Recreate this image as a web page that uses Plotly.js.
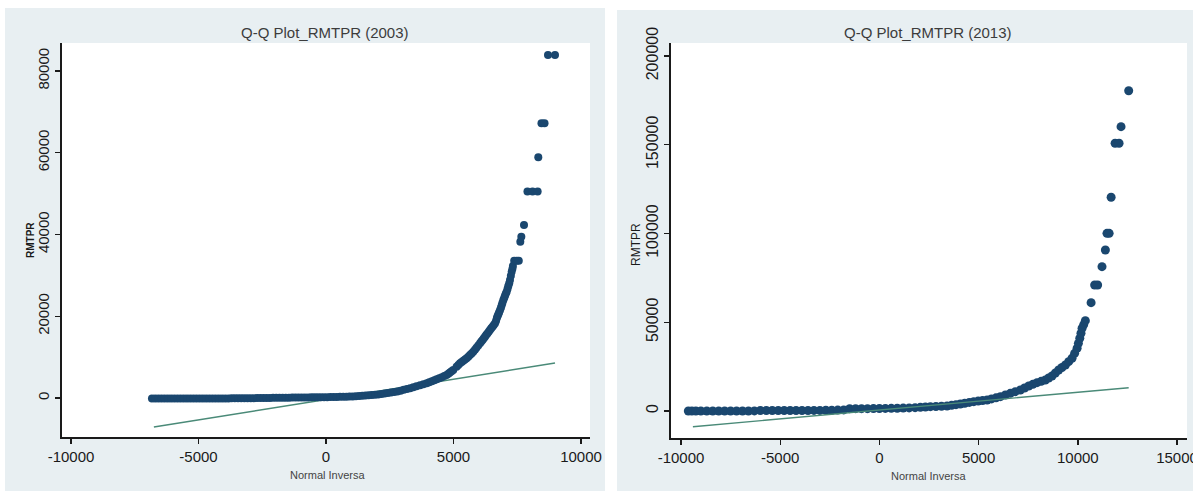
<!DOCTYPE html>
<html><head><meta charset="utf-8">
<script src="https://cdn.plot.ly/plotly-3.0.1.min.js"></script>
<style>html,body{margin:0;padding:0;background:#fff;overflow:hidden}#chart{width:1193px;height:493px}</style>
</head><body><div id="chart"></div>
<script>
// ---------- data ----------
const titles = ["Q-Q Plot_RMTPR (2003)", "Q-Q Plot_RMTPR (2013)"];
const xTitle = "Normal Inversa";
const yTitle = "RMTPR";

const xTicks2003 = [-10000, -5000, 0, 5000, 10000];
const yTicks2003 = [0, 20000, 40000, 60000, 80000];
const xTicks2013 = [-10000, -5000, 0, 5000, 10000, 15000];
const yTicks2013 = [0, 50000, 100000, 150000, 200000];

// 2003: normal-inverse quantile (x) vs RMTPR quantile (y)
const q2003X = [
  -6825,-6700,-6575,-6450,-6325,-6200,-6075,-5950,-5825,-5700,
  -5575,-5450,-5325,-5200,-5075,-4950,-4825,-4700,-4575,-4450,
  -4325,-4200,-4075,-3950,-3825,-3700,-3575,-3450,-3325,-3200,
  -3075,-2950,-2825,-2700,-2575,-2450,-2325,-2200,-2075,-1950,
  -1825,-1700,-1575,-1450,-1325,-1200,-1075,-950,-825,-700,
  -575,-450,-325,-200,-75,50,175,300,425,550,
  675,800,925,1050,1175,1300,1425,1550,1675,1800,
  1925,2050,2175,2300,2425,2550,2675,2800,2925,3050,
  3175,3300,3425,3550,3690,3820,3950,4050,4150,4250,
  4340,4440,4540,4640,4730,4800,4860,4925,4990,
  5120,5190,5255,5320,5385,5450,5515,5580,5645,5710,
  5775,5840,5900,5970,6040,6090,6140,6190,6235,6280,
  6330,6380,6430,6480,6530,6580,6630,6670,6700,6730,
  6760,6790,6825,6860,6890,6920,6955,6990,7020,7050,
  7085,7120,7150,7185,7215,7250,7280,7310,7330,7380,
  7480,7560,7620,7660,7765,7900,8100,8300,8325,8450,
  8570,8705,8980];
const q2003Y = [
  -150,-150,-150,-150,-150,-150,-150,-150,-150,-150,
  -140,-140,-140,-140,-130,-130,-130,-130,-120,-120,
  -110,-110,-100,-100,-100,-90,-90,-80,-80,-60,
  -50,-40,-30,-20,0,10,20,30,40,50,
  60,70,80,90,100,110,120,130,140,150,
  160,170,180,190,200,215,230,250,270,285,
  300,320,350,390,430,480,530,590,660,720,
  800,880,980,1100,1220,1340,1460,1580,1790,1990,
  2200,2400,2610,2850,3100,3350,3590,3830,4080,4320,
  4570,4830,5100,5370,5630,5940,6240,6550,6850,
  7650,8050,8480,8800,9100,9400,9700,10100,10500,10900,
  11330,11800,12300,12850,13380,13800,14200,14600,15000,15400,
  15800,16200,16630,17050,17450,17850,18270,18900,19600,20050,
  20500,21000,21525,22100,22700,23300,23970,24500,25000,25500,
  26000,26700,27400,28100,28860,29900,30900,31600,32300,33600,
  33600,33600,38230,39450,42320,50500,50500,50500,58880,67200,
  67200,83900,83900];
const line2003X = [-6750, 8980];
const line2003Y = [-7100, 8560];

// 2013
const q2013X = [-9630,-9450,-9250,-9000,-8700,-8400,-8100,-7800,-7500,-7200,-6900,-6600,-6300,-6000,-5700,-5400,-5100,-4800,-4500,-4200,-3900,-3600,-3300,-3000,-2700,-2400,-2100,-1800,-1500,-1200,-900,-600,-300,0,300,600,900,1200,1500,1800,2065,2320,2570,2850,3130,3410,3640,3860,4080,4300,4530,4755,4980,5200,5430,5650,5880,6100,6350,6600,6850,7105,7315,7525,7735,7945,8155,8365,8530,8700,8870,9035,9200,9375,9540,9710,9840,9965,10030,10100,10160,10215,10300,10380,10670,10850,11000,11220,11390,11470,11580,11680,11880,12080,12180,12565];
const q2013Y = [0,0,0,0,0,0,0,0,0,0,0,0,50,300,300,300,300,300,300,300,300,300,350,350,400,400,500,600,1300,1300,1300,1300,1350,1400,1450,1500,1550,1650,1750,1900,2070,2250,2440,2560,2700,2820,3200,3560,3940,4380,4820,5260,5580,5880,6200,6800,7430,8070,9000,9950,10900,11830,12950,14085,15020,15970,16700,17470,18600,19720,21400,23100,24500,25920,27800,29690,32500,35330,38100,40960,43800,46590,48700,50880,61020,71000,71000,81300,90700,100110,100110,120400,150820,150820,160180,180450];
const line2013X = [-9400, 12565];
const line2013Y = [-8850, 13130];

// ---------- styling ----------
const W = 1193, H = 493;
const FONT = "Liberation Sans, Arial, sans-serif";
const NAVY = "#1a476f";
const LINEC = "#4a8a78";
const PANEL = "#e8eff2";
const fx = v => v / W;
const fy = v => 1 - v / H;

const traces = [
  {x: line2003X, y: line2003Y, xaxis: "x", yaxis: "y", mode: "lines", line: {color: LINEC, width: 1.4}, hoverinfo: "skip"},
  {x: q2003X, y: q2003Y, xaxis: "x", yaxis: "y", mode: "markers", marker: {color: NAVY, size: 8, line: {width: 0}}},
  {x: q2013X, y: q2013Y, xaxis: "x2", yaxis: "y2", mode: "markers", marker: {color: NAVY, size: 9, line: {width: 0}}},
  {x: line2013X, y: line2013Y, xaxis: "x2", yaxis: "y2", mode: "lines", line: {color: LINEC, width: 1.4}, hoverinfo: "skip"}
];

function axisCommon(ticks, extra) {
  return Object.assign({
    tickmode: "array", tickvals: ticks, ticktext: ticks.map(v => String(v)),
    showgrid: false, zeroline: false, showline: true, linecolor: "#1a1a1a", linewidth: 1.6,
    ticks: "outside", ticklen: 5, tickwidth: 1.4, tickcolor: "#1a1a1a",
    ticklabeloverflow: "allow",
    tickfont: {family: FONT, size: 15, color: "#1a1a1a"}, fixedrange: true
  }, extra);
}

const dL = [62, 590, 43, 437];
const dR = [671, 1187, 43, 438];

const layout = {
  width: W, height: H,
  margin: {l: 0, r: 0, t: 0, b: 0, pad: 0},
  paper_bgcolor: "#ffffff", plot_bgcolor: "rgba(0,0,0,0)",
  showlegend: false,
  font: {family: FONT},
  xaxis: axisCommon(xTicks2003, {domain: [fx(dL[0]), fx(dL[1])], range: [-10353, 10353], anchor: "y"}),
  yaxis: axisCommon(yTicks2003, {domain: [fy(dL[3]), fy(dL[2])], range: [-9540, 86850], anchor: "x", tickangle: -90, tickfont: {family: FONT, size: 15, color: "#1a1a1a"}}),
  xaxis2: axisCommon(xTicks2013, {domain: [fx(dR[0]), fx(dR[1])], range: [-10504, 15504], anchor: "y2"}),
  yaxis2: axisCommon(yTicks2013, {domain: [fy(dR[3]), fy(dR[2])], range: [-15211, 207324], anchor: "x2", tickangle: -90, tickfont: {family: FONT, size: 16, color: "#1a1a1a"}}),
  shapes: [
    {type: "rect", xref: "paper", yref: "paper", x0: fx(5), x1: fx(605), y0: fy(491), y1: fy(8), fillcolor: PANEL, line: {width: 0}, layer: "below"},
    {type: "rect", xref: "paper", yref: "paper", x0: fx(617), x1: fx(1193), y0: fy(491), y1: fy(10), fillcolor: PANEL, line: {width: 0}, layer: "below"},
    {type: "rect", xref: "paper", yref: "paper", x0: fx(dL[0]), x1: fx(dL[1]), y0: fy(dL[3]), y1: fy(dL[2]), fillcolor: "#ffffff", line: {width: 0}, layer: "below"},
    {type: "rect", xref: "paper", yref: "paper", x0: fx(dR[0]), x1: fx(dR[1]), y0: fy(dR[3]), y1: fy(dR[2]), fillcolor: "#ffffff", line: {width: 0}, layer: "below"}
  ],
  annotations: [
    {text: titles[0], xref: "paper", yref: "paper", x: fx(325), y: fy(33), xanchor: "center", yanchor: "middle", showarrow: false, font: {family: FONT, size: 15, color: "#3c3c3c"}},
    {text: titles[1], xref: "paper", yref: "paper", x: fx(928), y: fy(33), xanchor: "center", yanchor: "middle", showarrow: false, font: {family: FONT, size: 15, color: "#3c3c3c"}},
    {text: xTitle, xref: "paper", yref: "paper", x: fx(327), y: fy(475), xanchor: "center", yanchor: "middle", showarrow: false, font: {family: FONT, size: 11, color: "#444444"}},
    {text: xTitle, xref: "paper", yref: "paper", x: fx(928), y: fy(476), xanchor: "center", yanchor: "middle", showarrow: false, font: {family: FONT, size: 11, color: "#444444"}},
    {text: "<b>" + yTitle + "</b>", xref: "paper", yref: "paper", x: fx(30), y: fy(240), xanchor: "center", yanchor: "middle", textangle: -90, showarrow: false, font: {family: FONT, size: 10, color: "#1a1a1a"}},
    {text: yTitle, xref: "paper", yref: "paper", x: fx(636), y: fy(245), xanchor: "center", yanchor: "middle", textangle: -90, showarrow: false, font: {family: FONT, size: 12, color: "#1a1a1a"}}
  ]
};

Plotly.newPlot("chart", traces, layout, {staticPlot: true, displayModeBar: false});
</script>
</body></html>
